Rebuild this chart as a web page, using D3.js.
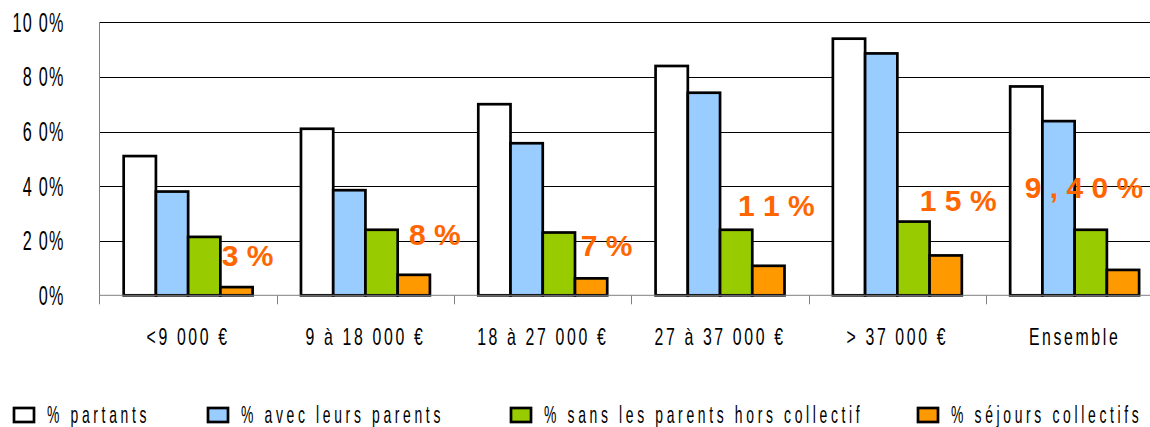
<!DOCTYPE html>
<html>
<head>
<meta charset="utf-8">
<script src="https://cdn.jsdelivr.net/npm/d3@7"></script>
<style>
  body { margin: 0; background: #fff; }
  text { font-family: "Liberation Sans", Arial, sans-serif; }
</style>
</head>
<body>
<div id="grafico"></div>
<script>
// Catégories de revenu
const categories = ["<9 000 €", "9 à 18 000 €", "18 à 27 000 €", "27 à 37 000 €", "> 37 000 €", "Ensemble"];
const series = ["% partants", "% avec leurs parents", "% sans les parents hors collectif", "% séjours collectifs"];
const partants = [51, 61, 70, 84, 94, 76.5];
const avecParents = [38, 38.5, 55.7, 74.2, 88.6, 63.8];
const sansParents = [21.4, 24, 23, 24, 27, 24];
const collectifs = [3, 7.5, 6.2, 10.8, 14.6, 9.3];
const yTicks = [0, 20, 40, 60, 80, 100];
const yTickLabels = ["0%", "2 0%", "4 0%", "6 0%", "8 0%", "10 0%"];
// annotations orange (texte, hauteur de la ligne de base en %)
const annotations = ["3 %", "8 %", "7 %", "1 1 %", "1 5 %", "9 , 4 0 %"];
const annotationLevel = [10.7, 18.4, 14.5, 29.2, 30.9, 35.8];
const annotationShift = [11, 21, 15.5, 8, 12.5, -39];

const width = 1150;
const height = 427;
const margin = { top: 22.3, left: 99.5, bottom: 295.3 };
const bandW = 177.3;

const data = categories.map((c, i) => ({
  cat: c,
  vals: [partants[i], avecParents[i], sansParents[i], collectifs[i]],
}));

const svg = d3.select("#grafico").append("svg")
  .attr("width", width).attr("height", height);

// texte étroit : police normale comprimée horizontalement
function narrowText(sel, opts) {
  sel
    .attr("x", 0).attr("y", 0)
    .attr("transform", (d, i) => `translate(${opts.x(d, i)},${opts.y(d, i)}) scale(${opts.sx},1)`)
    .attr("text-anchor", opts.anchor || "start")
    .style("font-size", opts.size + "px")
    .style("letter-spacing", opts.ls + "px")
    .attr("fill", "#000");
}

const x0 = d3.scaleBand()
  .domain(categories)
  .range([margin.left, margin.left + bandW * categories.length]);

const gap = x0.bandwidth() * 0.75 / 5.5;
const x1 = d3.scaleBand()
  .domain(d3.range(series.length))
  .range([gap, x0.bandwidth() - gap]);

const y = d3.scaleLinear().domain([0, 100]).range([margin.bottom, margin.top]);

const color = d3.scaleOrdinal()
  .domain(d3.range(4))
  .range(["#ffffff", "#99ccff", "#99cc00", "#ff9900"]);

// Grille
svg.append("g")
  .selectAll("line")
  .data(yTicks.slice(1))
  .join("line")
  .attr("x1", margin.left).attr("x2", width)
  .attr("y1", (d) => Math.round(y(d)) + 0.5).attr("y2", (d) => Math.round(y(d)) + 0.5)
  .attr("stroke", "#000").attr("stroke-width", 1);

// Etiquettes axe Y
svg.append("g")
  .selectAll("text")
  .data(yTicks)
  .join("text")
  .call(narrowText, {
    x: () => margin.left - 35,
    y: (d) => y(d) + 9.5,
    sx: 0.6, size: 27, ls: 2, anchor: "end",
  })
  .text((d, i) => yTickLabels[i]);

// Barres
svg.append("g")
  .selectAll("g")
  .data(data)
  .join("g")
  .attr("transform", (d) => `translate(${x0(d.cat)},0)`)
  .selectAll("rect")
  .data((d) => d.vals.map((v, k) => ({ k, v })))
  .join("rect")
  .attr("x", (d) => x1(d.k))
  .attr("y", (d) => y(d.v))
  .attr("width", x1.bandwidth())
  .attr("height", (d) => y(0) - y(d.v))
  .attr("fill", (d) => color(d.k))
  .attr("stroke", "#000")
  .attr("stroke-width", 2.7);

// Axe X
svg.append("line")
  .attr("x1", margin.left).attr("x2", width)
  .attr("y1", y(0)).attr("y2", y(0))
  .attr("stroke", "#808080").attr("stroke-width", 1);
svg.append("line")
  .attr("x1", margin.left).attr("x2", margin.left)
  .attr("y1", y(100)).attr("y2", y(0) + 9)
  .attr("stroke", "#808080").attr("stroke-width", 1);
svg.append("g")
  .selectAll("line")
  .data(categories.slice(1))
  .join("line")
  .attr("x1", (d) => Math.round(x0(d)) + 0.5).attr("x2", (d) => Math.round(x0(d)) + 0.5)
  .attr("y1", y(0)).attr("y2", y(0) + 9)
  .attr("stroke", "#808080");

svg.append("g")
  .selectAll("text")
  .data(categories)
  .join("text")
  .call(narrowText, {
    x: (d) => x0(d) + x0.bandwidth() / 2,
    y: () => 345,
    sx: 0.66, size: 24, ls: 4, anchor: "middle",
  })
  .text((d) => d);

// Annotations
svg.append("g")
  .selectAll("text")
  .data(annotations)
  .join("text")
  .attr("x", (d, i) => x0(categories[i]) + x1(3) + x1.bandwidth() / 2 + annotationShift[i])
  .attr("y", (d, i) => y(annotationLevel[i]))
  .attr("text-anchor", "middle")
  .style("font-weight", "bold")
  .style("font-size", "30px")
  .attr("fill", "#ff6600")
  .text((d) => d);

// Légende
const legendX = [13, 207, 510, 917];
const legend = svg.append("g").attr("transform", "translate(0, 407)");
series.forEach((s, i) => {
  const g = legend.append("g").attr("transform", `translate(${legendX[i]},0)`);
  g.append("rect")
    .attr("x", 1).attr("y", 1)
    .attr("width", 20).attr("height", 14)
    .attr("fill", color(i))
    .attr("stroke", "#000").attr("stroke-width", 2.7);
  g.append("text")
    .datum(s)
    .call(narrowText, {
      x: () => 34, y: () => 16,
      sx: 0.58, size: 24, ls: 6.3,
    })
    .text(s);
});
</script>
</body>
</html>
